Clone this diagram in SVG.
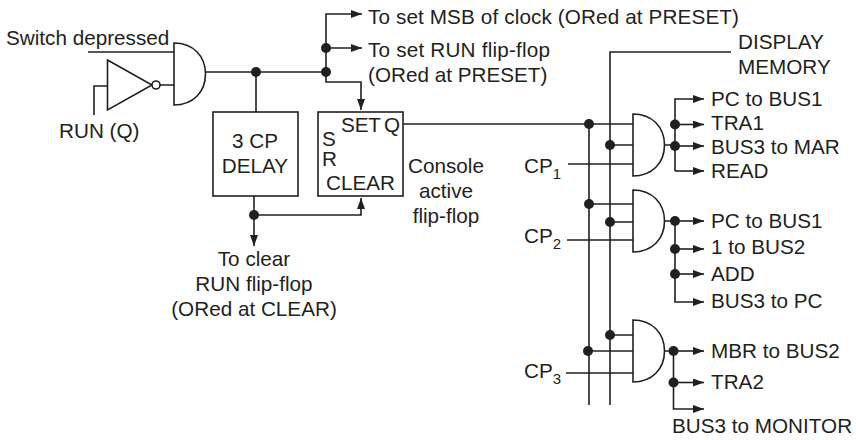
<svg xmlns="http://www.w3.org/2000/svg" width="856" height="440" viewBox="0 0 856 440">
<style>
text{font-family:"Liberation Sans",Arial,sans-serif;font-size:20.7px;fill:#231f20}
.s{font-size:15px}
.m{text-anchor:middle}
.w{fill:none;stroke:#231f20;stroke-width:1.6}
.g{fill:#fff;stroke:#231f20;stroke-width:1.6}
.a{marker-end:url(#ah)}
.d{fill:#231f20}
</style>
<defs>
<marker id="ah" markerUnits="userSpaceOnUse" markerWidth="12" markerHeight="8" refX="11" refY="4" orient="auto"><path d="M0,0L11,4L0,8Z" fill="#231f20"/></marker>
</defs>
<rect width="856" height="440" fill="#fff"/>
<g id="connectors">
<path class="w" d="M88,52H174M94,115V86H107M160,85H174M205,72H326M256,72V112"/>
<path class="w a" d="M326,72V14H362"/>
<path class="w a" d="M326,48H362"/>
<path class="w a" d="M326,72V82H361V110"/>
<path class="w" d="M254,196V215"/>
<path class="w a" d="M254,215V246"/>
<path class="w a" d="M254,215H361V198"/>
<path class="w" d="M403,124H633M589,124V405M610,405V52H731"/>
<path class="w" d="M610,145H633M568,164H633M589,204H633M610,222H633M567,240H633M610,335H633M589,351H633M566,373H633"/>
<path class="w" d="M664,145H675M664,221H675M664,351H673.5"/>
<path class="w a" d="M675,171V99H704"/>
<path class="w a" d="M675,124.500H704"/>
<path class="w a" d="M675,146H704"/>
<path class="w a" d="M675,171H704"/>
<path class="w a" d="M675,221H704"/>
<path class="w a" d="M675,249H704"/>
<path class="w a" d="M675,274H704"/>
<path class="w a" d="M675,221V302H704"/>
<path class="w a" d="M673.500,351H704"/>
<path class="w a" d="M673.500,382.500H704"/>
<path class="w a" d="M673.500,351V409H704"/>
<g class="d">
<circle cx="256" cy="72" r="5"/><circle cx="326" cy="72" r="5"/><circle cx="326" cy="48" r="5"/><circle cx="254" cy="215" r="5"/>
<circle cx="589" cy="124" r="5"/><circle cx="610" cy="145" r="5"/><circle cx="589" cy="204" r="5"/><circle cx="610" cy="222" r="5"/><circle cx="610" cy="335" r="5"/><circle cx="588" cy="351" r="5"/>
<circle cx="675" cy="124.500" r="5"/><circle cx="675" cy="146" r="5"/><circle cx="675" cy="221" r="5"/><circle cx="675" cy="249" r="5"/><circle cx="675" cy="274" r="5"/><circle cx="673.500" cy="351" r="5"/><circle cx="673.500" cy="382.500" r="5"/>
</g>
</g>
<g id="and-input"><path class="g" d="M174,43C193,43 205.500,56 205.500,74C205.500,92 193,105 174,105Z"/></g>
<g id="inverter"><path class="g" d="M107.500,60L152,85L107.500,110Z"/><circle class="g" cx="156" cy="85" r="4"/></g>
<g id="delay"><rect class="g" x="213" y="112" width="85" height="84"/><text class="m" x="255" y="148">3 CP</text><text class="m" x="255" y="173">DELAY</text></g>
<g id="flipflop"><rect class="g" x="318" y="112" width="85" height="84"/><text x="341" y="132" textLength="40">SET</text><text x="384" y="132">Q</text><text x="322" y="146">S</text><text x="322" y="166">R</text><text x="326" y="190">CLEAR</text></g>
<g id="and-1"><path class="g" d="M633,114C652,114 664.500,127 664.500,145C664.500,163 652,176 633,176Z"/></g>
<g id="and-2"><path class="g" d="M633,190C652,190 664.500,203 664.500,221C664.500,239 652,252 633,252Z"/></g>
<g id="and-3"><path class="g" d="M633,320C652,320 664.500,333 664.500,351C664.500,369 652,382 633,382Z"/></g>
<g id="labels">
<text x="6" y="45">Switch depressed</text>
<text x="59" y="138">RUN (Q)</text>
<text x="368" y="24" textLength="371">To set MSB of clock (ORed at PRESET)</text>
<text x="368" y="57" textLength="182">To set RUN flip-flop</text>
<text x="368" y="81.500">(ORed at PRESET)</text>
<text class="m" x="254" y="266">To clear</text>
<text class="m" x="254" y="291">RUN flip-flop</text>
<text class="m" x="254" y="316">(ORed at CLEAR)</text>
<text class="m" x="446" y="173">Console</text>
<text class="m" x="446" y="198">active</text>
<text class="m" x="446" y="223">flip-flop</text>
<text x="738" y="49">DISPLAY</text>
<text x="738" y="74">MEMORY</text>
<text x="711" y="106">PC to BUS1</text>
<text x="711" y="130">TRA1</text>
<text x="711" y="154">BUS3 to MAR</text>
<text x="711" y="178">READ</text>
<text x="711" y="228">PC to BUS1</text>
<text x="711" y="254">1 to BUS2</text>
<text x="711" y="281">ADD</text>
<text x="711" y="308">BUS3 to PC</text>
<text x="711" y="358">MBR to BUS2</text>
<text x="711" y="389">TRA2</text>
<text x="672" y="433">BUS3 to MONITOR</text>
<text x="524" y="173">CP<tspan class="s" dy="6">1</tspan></text>
<text x="524" y="243">CP<tspan class="s" dy="6">2</tspan></text>
<text x="524" y="378">CP<tspan class="s" dy="6">3</tspan></text>
</g>
</svg>
